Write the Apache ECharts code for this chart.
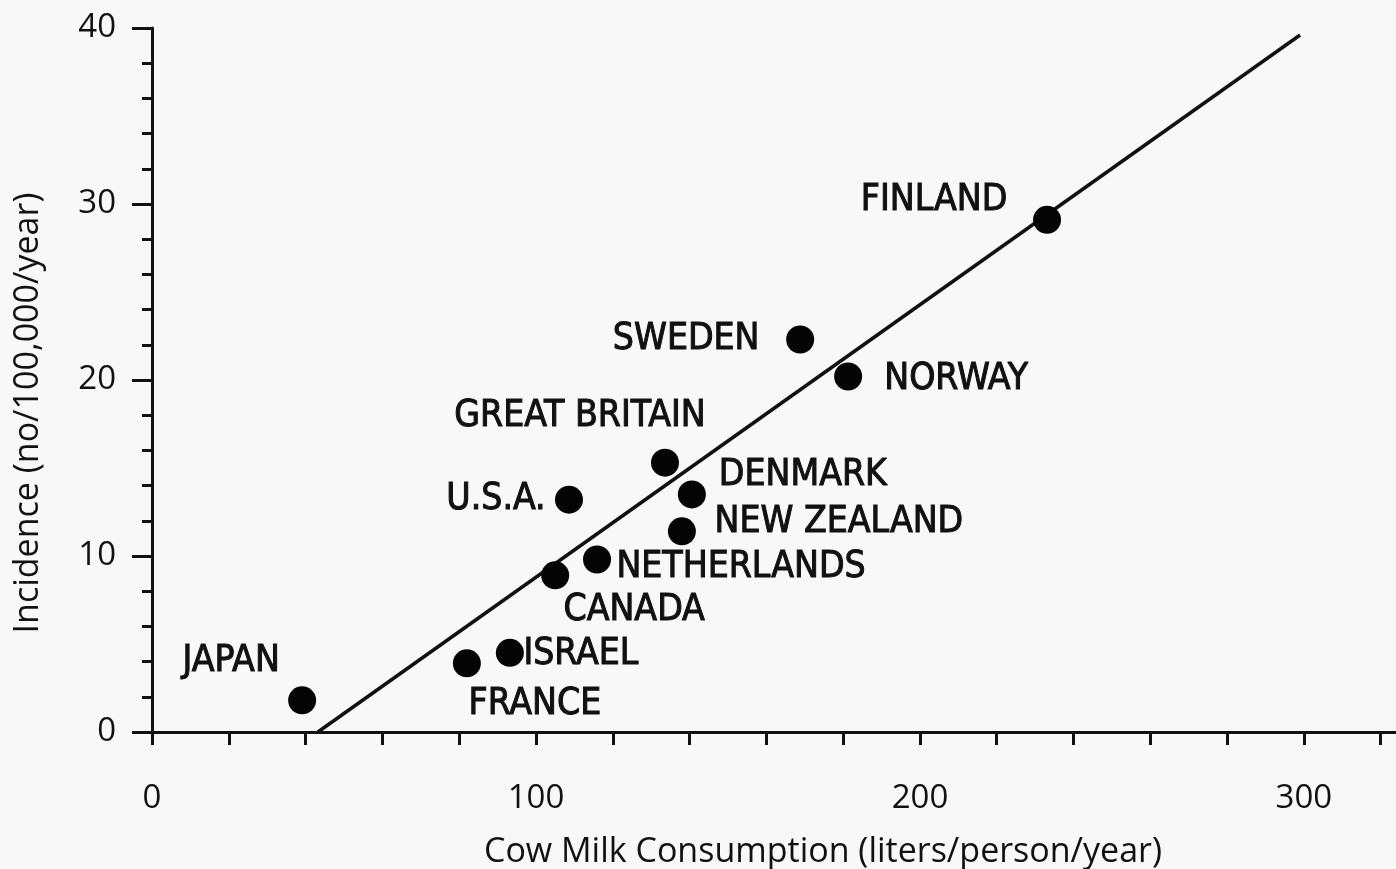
<!DOCTYPE html>
<html>
<head>
<meta charset="utf-8">
<script src="https://cdn.jsdelivr.net/npm/echarts@6/dist/echarts.min.js"></script>
<style>
html,body{margin:0;padding:0;background:#f8f8f8;}
#chart{width:1396px;height:869px;}
</style>
</head>
<body>
<div id="chart"></div>
<script>
// ---- data ----
var countries = ['JAPAN','FRANCE','ISRAEL','CANADA','NETHERLANDS','U.S.A.','GREAT BRITAIN','DENMARK','NEW ZEALAND','SWEDEN','NORWAY','FINLAND'];
var milk      = [39.1, 82.0, 93.2, 105.0, 115.9, 108.6, 133.6, 140.6, 138.0, 168.8, 181.3, 233.1];
var incidence = [1.8, 3.9, 4.5, 8.9, 9.8, 13.2, 15.3, 13.5, 11.4, 22.3, 20.2, 29.1];
var fitX = [43.2, 299.0];
var fitY = [0, 39.6];
var xTickLabels = [0, 100, 200, 300];
var yTickLabels = [0, 10, 20, 30, 40];

// ---- layout (label offsets from dot centre, px) ----
var labelOffsets = [[-71,-39],[68,41],[71,2],[79,35],[144,8],[-73,0],[-85,-46],[111,-19],[157,-9],[-114,0],[108,3],[-113,-19]];

var labelFont = '"Liberation Sans Narrow","DejaVu Sans Condensed","Roboto Condensed","Arial Narrow",sans-serif';
var axisFont = '"Open Sans","Noto Sans",sans-serif';

var points = countries.map(function(c,i){
  return {
    name: c,
    value: [milk[i], incidence[i]],
    label: {offset: labelOffsets[i]}
  };
});

var chart = echarts.init(document.getElementById('chart'));
chart.setOption({
  backgroundColor: '#f8f8f8',
  animation: false,
  grid: {left: 152, right: -2, top: 28, bottom: 137, containLabel: false, outerBoundsMode: 'none'},
  xAxis: {
    type: 'value', min: 0, max: 324.5, interval: 20,
    axisLine: {show: true, onZero: false, lineStyle: {color: '#111', width: 3}},
    axisTick: {show: true, inside: false, length: 13, lineStyle: {color: '#111', width: 3}},
    splitLine: {show: false},
    axisLabel: {
      margin: 50, fontSize: 33, color: '#111', fontFamily: axisFont,
      formatter: function(v){ return xTickLabels.indexOf(v) >= 0 ? String(v) : ''; }
    },
    name: 'Cow Milk Consumption (liters/person/year)',
    nameLocation: 'middle', nameGap: 103,
    nameTextStyle: {fontSize: 34, color: '#111', fontFamily: axisFont, padding: [0, 0, 0, 96]}
  },
  yAxis: {
    type: 'value', min: 0, max: 40, interval: 10,
    axisLine: {show: true, onZero: false, lineStyle: {color: '#111', width: 3}},
    axisTick: {show: true, inside: false, length: 20, lineStyle: {color: '#111', width: 3}},
    minorTick: {show: true, splitNumber: 5, length: 10, lineStyle: {color: '#111', width: 3}},
    splitLine: {show: false},
    axisLabel: {
      margin: 36, fontSize: 33, color: '#111', fontFamily: axisFont,
      formatter: function(v){ return yTickLabels.indexOf(v) >= 0 ? String(v) : ''; }
    },
    name: 'Incidence (no/100,000/year)',
    nameLocation: 'middle', nameGap: 107,
    nameTextStyle: {fontSize: 34, color: '#111', fontFamily: axisFont, padding: [0, 66, 0, 0]}
  },
  series: [
    {
      type: 'line',
      data: [[fitX[0], fitY[0]], [fitX[1], fitY[1]]],
      showSymbol: false, symbol: 'none',
      lineStyle: {color: '#111', width: 3.5},
      silent: true, z: 2
    },
    {
      type: 'scatter',
      data: points,
      symbolSize: 28,
      itemStyle: {color: '#050505', opacity: 1},
      label: {
        show: true, position: 'inside',
        formatter: '{b}',
        fontFamily: labelFont, fontSize: 37, color: '#111',
        textBorderColor: '#111', textBorderWidth: 1,
        align: 'center', verticalAlign: 'middle'
      },
      z: 3
    }
  ]
});
</script>
</body>
</html>
